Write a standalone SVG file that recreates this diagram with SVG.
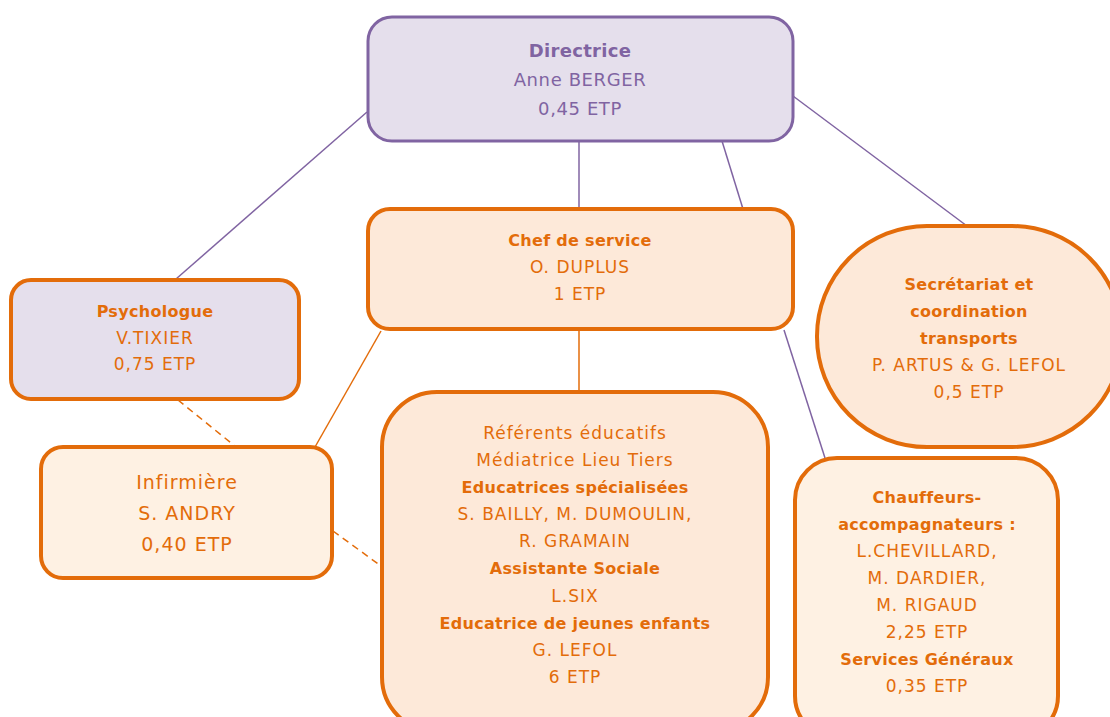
<svg xmlns="http://www.w3.org/2000/svg" width="1110" height="717" viewBox="0 0 1110 717">
<style>
text{font-family:"DejaVu Sans","Noto Sans",sans-serif;font-size:17px;letter-spacing:1px;text-anchor:middle}
.p{fill:#8064a2}
.o{fill:#e36c0a}
.b{font-weight:bold;font-size:16px;letter-spacing:0.3px}
.lp{stroke:#8064a2;stroke-width:1.5;fill:none}
.lo{stroke:#e36c0a;stroke-width:1.5;fill:none}
.d{stroke-dasharray:7 5}
.np{fill:#e5dfec;stroke:#8064a2;stroke-width:3}
.no{stroke:#e36c0a;stroke-width:4}
</style>
<rect width="1110" height="717" fill="#ffffff"/>
<g id="connectors">
<line class="lp" x1="367" y1="112" x2="176" y2="279"/>
<line class="lp" x1="579" y1="141" x2="579" y2="209"/>
<line class="lp" x1="722" y1="141" x2="743" y2="209"/>
<line class="lp" x1="793" y1="96" x2="967" y2="226"/>
<line class="lp" x1="784" y1="330" x2="825" y2="458"/>
<line class="lo" x1="579" y1="330" x2="579" y2="392"/>
<line class="lo" x1="381" y1="331" x2="315" y2="447"/>
<line class="lo d" x1="178" y1="400" x2="236" y2="447"/>
<line class="lo d" x1="333" y1="531" x2="381" y2="566"/>
</g>
<g id="directrice">
<rect class="np" x="368" y="17" width="425" height="124" rx="24"/>
<text class="p b" x="580" y="57" style="font-size:18px">Directrice</text>
<text class="p" x="580" y="86" style="font-size:18px;letter-spacing:0.6px">Anne BERGER</text>
<text class="p" x="580" y="115" style="font-size:18px;letter-spacing:0.6px">0,45 ETP</text>
</g>
<g id="chef">
<rect class="no" fill="#fde9d9" x="368" y="209" width="425" height="120" rx="22"/>
<text class="o b" x="580" y="246">Chef de service</text>
<text class="o" x="580" y="273">O. DUPLUS</text>
<text class="o" x="580" y="300">1 ETP</text>
</g>
<g id="psychologue">
<rect class="no" fill="#e5dfec" x="11" y="280" width="288" height="119" rx="20"/>
<text class="o b" x="155" y="317">Psychologue</text>
<text class="o" x="155" y="344">V.TIXIER</text>
<text class="o" x="155" y="370">0,75 ETP</text>
</g>
<g id="infirmiere">
<rect class="no" fill="#fef1e3" x="41" y="447" width="291" height="131" rx="22"/>
<text class="o" x="187" y="489" style="font-size:19px">Infirmière</text>
<text class="o" x="187" y="520" style="font-size:19px">S. ANDRY</text>
<text class="o" x="187" y="551" style="font-size:19px">0,40 ETP</text>
</g>
<g id="equipe">
<rect class="no" fill="#fde9d9" x="382" y="392" width="386" height="340" rx="55"/>
<text class="o" x="575" y="439">Référents éducatifs</text>
<text class="o" x="575" y="466">Médiatrice Lieu Tiers</text>
<text class="o b" x="575" y="493">Educatrices spécialisées</text>
<text class="o" x="575" y="520">S. BAILLY, M. DUMOULIN,</text>
<text class="o" x="575" y="547">R. GRAMAIN</text>
<text class="o b" x="575" y="574">Assistante Sociale</text>
<text class="o" x="575" y="602">L.SIX</text>
<text class="o b" x="575" y="629">Educatrice de jeunes enfants</text>
<text class="o" x="575" y="656">G. LEFOL</text>
<text class="o" x="575" y="683">6 ETP</text>
</g>
<g id="secretariat">
<rect class="no" fill="#fde9d9" x="817" y="226" width="305" height="221" rx="110"/>
<text class="o b" x="969" y="290">Secrétariat et</text>
<text class="o b" x="969" y="317">coordination</text>
<text class="o b" x="969" y="344">transports</text>
<text class="o" x="969" y="371">P. ARTUS &amp; G. LEFOL</text>
<text class="o" x="969" y="398">0,5 ETP</text>
</g>
<g id="chauffeurs">
<rect class="no" fill="#fef1e3" x="795" y="458" width="263" height="280" rx="42"/>
<text class="o b" x="927" y="503">Chauffeurs-</text>
<text class="o b" x="927" y="530">accompagnateurs :</text>
<text class="o" x="927" y="557">L.CHEVILLARD,</text>
<text class="o" x="927" y="584">M. DARDIER,</text>
<text class="o" x="927" y="611">M. RIGAUD</text>
<text class="o" x="927" y="638">2,25 ETP</text>
<text class="o b" x="927" y="665">Services Généraux</text>
<text class="o" x="927" y="692">0,35 ETP</text>
</g>
</svg>
